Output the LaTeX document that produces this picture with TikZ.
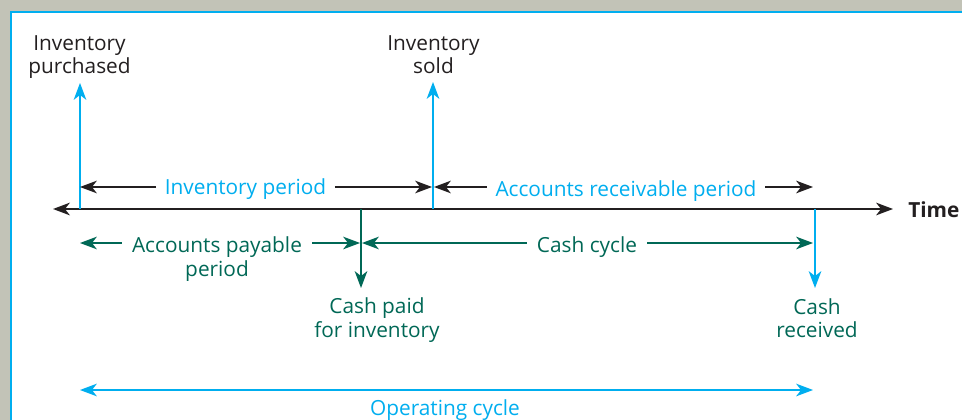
\documentclass[tikz,border=0pt]{standalone}
\usepackage{fontspec}
\setmainfont{Open Sans}
\usetikzlibrary{arrows.meta}
\definecolor{frameGray}{RGB}{194,195,183}
\definecolor{skyBlue}{RGB}{0,174,239}
\definecolor{pineGreen}{RGB}{0,104,86}
\definecolor{inkBlack}{RGB}{35,31,32}

\begin{document}
\begin{tikzpicture}[x=0.025cm, y=-0.025cm,
    font=\fontsize{14.8}{16.6}\selectfont,
    >={Stealth[length=12pt, width=9pt, inset=3.5pt]}]

    % Frame: grey margin, white panel with a blue edge
    \useasboundingbox (0,0) rectangle (962,420);
    \fill[frameGray] (0,0) rectangle (962,420);
    \fill[white] (11,12) rectangle (962,420);
    \draw[skyBlue, line width=1.5pt] (11,420) -- (11,12) -- (962,12);

    \tikzset{
        axisline/.style={inkBlack, line width=1.2pt},
        spanline/.style={line width=1pt},
        eventline/.style={line width=1pt},
        blacktext/.style={text=inkBlack, align=center},
        bluetext/.style={text=skyBlue, inner xsep=6pt},
        greentext/.style={text=pineGreen, align=center, inner xsep=7pt}
    }

    % 1. Points on the time line
    \coordinate (Tstart) at (53,209);
    \coordinate (Tend) at (893,209);
    \coordinate (Buy) at (80,209);
    \coordinate (Pay) at (361,209);
    \coordinate (Sell) at (433,209);
    \coordinate (Collect) at (815,209);

    % 2. The time line
    \draw[axisline, <->] (Tstart) -- (Tend);
    \node[font=\fontsize{14.8}{16.6}\selectfont\bfseries, text=inkBlack,
          anchor=west, inner sep=0pt] (time) at (908,210) {Time};

    % 3. Events: purchase and sale above, payment and collection below
    \coordinate (BuyTip) at (80,83);
    \coordinate (SellTip) at (433,82);
    \coordinate (PayTip) at (361,288);
    \coordinate (CollectTip) at (815,288);

    \draw[eventline, skyBlue, ->] (Buy) -- (BuyTip);
    \draw[eventline, skyBlue, ->] (Sell) -- (SellTip);
    \draw[eventline, pineGreen, ->] (Pay) -- (PayTip);
    \draw[eventline, skyBlue, ->] (Collect) -- (CollectTip);

    \node[blacktext] (buyLbl) at (79.5,57) {Inventory\\purchased};
    \node[blacktext] (sellLbl) at (433.5,55) {Inventory\\sold};
    \node[greentext] (payLbl) at (377,320) {Cash paid\\for inventory};
    \node[greentext] (collectLbl) at (817,318) {Cash\\received};

    % 4. Periods above the line
    \coordinate (invL) at (80,187);
    \coordinate (invR) at (432,187);
    \coordinate (arL) at (434,187);
    \coordinate (arR) at (813,187);

    \node[bluetext, anchor=base] (invPer) at (245.5,195) {Inventory period};
    \node[bluetext, anchor=base] (arPer) at (626,196) {Accounts receivable period};

    \draw[spanline, inkBlack, ->] (invPer.west |- invL) -- (invL);
    \draw[spanline, inkBlack, ->] (invPer.east |- invR) -- (invR);
    \draw[spanline, inkBlack, ->] (arPer.west |- arL) -- (arL);
    \draw[spanline, inkBlack, ->] (arPer.east |- arR) -- (arR);

    % 5. Periods below the line
    \coordinate (apL) at (80,243);
    \coordinate (apR) at (360,243);
    \coordinate (ccL) at (362,243);
    \coordinate (ccR) at (813,243);

    \node[greentext] (apPer) at (217,259) {Accounts payable\\period};
    \node[greentext, anchor=base] (cashCyc) at (587,252) {Cash cycle};

    \draw[spanline, pineGreen, ->] (apPer.west |- apL) -- (apL);
    \draw[spanline, pineGreen, ->] (apPer.east |- apR) -- (apR);
    \draw[spanline, pineGreen, ->] (cashCyc.west |- ccL) -- (ccL);
    \draw[spanline, pineGreen, ->] (cashCyc.east |- ccR) -- (ccR);

    % 6. The whole operating cycle
    \coordinate (opL) at (80,390);
    \coordinate (opR) at (813,390);
    \draw[spanline, skyBlue, <->] (opL) -- (opR);
    \node[bluetext, anchor=base] (opCyc) at (445,415.5) {Operating cycle};

\end{tikzpicture}
\end{document}
